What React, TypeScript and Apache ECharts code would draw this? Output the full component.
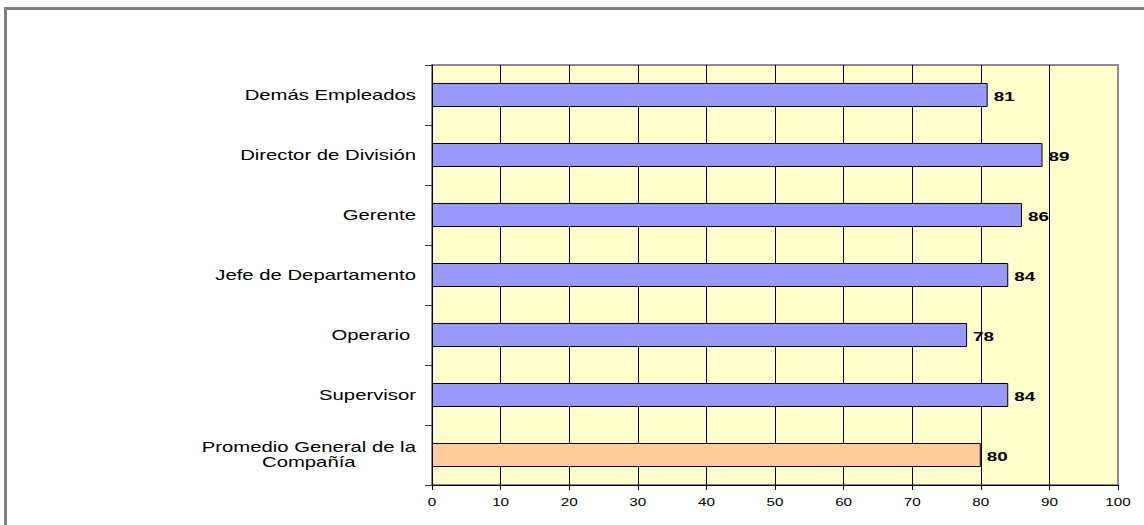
import React, { useEffect, useRef } from "react";
import * as echarts from "echarts";

// Categories listed top to bottom as they appear on the vertical axis
const categories = [
  "Demás Empleados",
  "Director de División",
  "Gerente",
  "Jefe de Departamento",
  "Operario ",
  "Supervisor",
  "Promedio General de la\nCompañía",
];
const scores = [81, 89, 86, 84, 78, 84, 80];
const barColors = ["#9999FF", "#9999FF", "#9999FF", "#9999FF", "#9999FF", "#9999FF", "#FFCC99"];
const xTicks = [0, 10, 20, 30, 40, 50, 60, 70, 80, 90, 100];

const W = 1144;
const H = 525;
const FONT_FAMILY = "'Liberation Sans', Arial, sans-serif";
// Text in this chart is drawn horizontally widened
const STRETCH = 1.45;

function measure(text: string, font: string): number {
  const ctx = document.createElement("canvas").getContext("2d");
  if (!ctx) return text.length * 7;
  ctx.font = font;
  return ctx.measureText(text).width;
}

export default function App() {
  const ref = useRef<HTMLDivElement>(null);

  useEffect(() => {
    if (!ref.current) return;
    const chart = echarts.init(ref.current, null, { renderer: "svg", width: W, height: H });

    const xMin = xTicks[0];
    const xMax = xTicks[xTicks.length - 1];

    chart.setOption({
      animation: false,
      backgroundColor: "#FFFFFF",
      grid: {
        left: 432,
        top: 65,
        right: 26,
        bottom: 40,
        show: true,
        backgroundColor: "#FFFFCC",
        borderColor: "#8C8C8C",
        borderWidth: 2,
      },
      xAxis: {
        type: "value",
        min: xMin,
        max: xMax,
        interval: 10,
        axisLine: { show: true, lineStyle: { color: "#000000", width: 1 } },
        axisTick: { show: true, length: 5, lineStyle: { color: "#000000", width: 1 } },
        axisLabel: { show: false },
        splitLine: {
          show: true,
          lineStyle: {
            color: xTicks.map((t) => (t === xMax ? "#8C8C8C" : "#000000")),
            width: 1,
          },
        },
      },
      yAxis: {
        type: "category",
        data: categories,
        inverse: true,
        axisLine: { show: true, lineStyle: { color: "#000000", width: 1 } },
        axisTick: { show: true, length: 7, lineStyle: { color: "#333333", width: 1 } },
        axisLabel: { show: false },
        splitLine: { show: false },
      },
      series: [
        {
          type: "bar",
          silent: true,
          barWidth: 24,
          data: scores.map((v, i) => ({ value: v, itemStyle: { color: barColors[i] } })),
          itemStyle: { borderColor: "#000000", borderWidth: 1 },
        },
      ],
    });

    const xOf = (v: number) => chart.convertToPixel({ xAxisIndex: 0 }, v) as number;
    const yOf = (i: number) => chart.convertToPixel({ yAxisIndex: 0 }, i) as number;

    const catFont = `14px ${FONT_FAMILY}`;
    const valFont = `bold 13px ${FONT_FAMILY}`;
    const tickFont = `10.5px ${FONT_FAMILY}`;

    const labelRight = xOf(xMin) - 16;
    const elements: any[] = [
      {
        type: "rect",
        silent: true,
        shape: { x: 5.5, y: 8.5, width: 1200, height: 600 },
        style: { fill: "none", stroke: "#808080", lineWidth: 3 },
      },
    ];

    // Category names
    categories.forEach((name, i) => {
      const cy = yOf(i);
      const lines = name.split("\n");
      if (lines.length === 1) {
        elements.push({
          type: "text",
          silent: true,
          x: labelRight,
          y: cy,
          scaleX: STRETCH,
          style: { text: name, font: catFont, fill: "#000000", align: "right", verticalAlign: "middle" },
        });
      } else {
        const w0 = measure(lines[0], catFont) * STRETCH;
        const center = labelRight - w0 / 2;
        const lh = 15;
        lines.forEach((ln, k) => {
          elements.push({
            type: "text",
            silent: true,
            x: center,
            y: cy + (k - (lines.length - 1) / 2) * lh,
            scaleX: STRETCH,
            style: { text: ln, font: catFont, fill: "#000000", align: "center", verticalAlign: "middle" },
          });
        });
      }
    });

    // Value labels at the end of each bar
    scores.forEach((v, i) => {
      elements.push({
        type: "text",
        silent: true,
        x: xOf(v) + 6,
        y: yOf(i) + 1,
        scaleX: STRETCH,
        style: { text: String(v), font: valFont, fill: "#000000", align: "left", verticalAlign: "middle" },
      });
    });

    // Horizontal axis tick labels
    const axisY = yOf(categories.length - 1) + 30;
    xTicks.forEach((t) => {
      elements.push({
        type: "text",
        silent: true,
        x: xOf(t),
        y: axisY + 17,
        scaleX: STRETCH,
        style: { text: String(t), font: tickFont, fill: "#000000", align: "center", verticalAlign: "middle" },
      });
    });

    chart.setOption({ graphic: { elements } });

    return () => {
      chart.dispose();
    };
  }, []);

  return (
    <div
      ref={ref}
      style={{ position: "absolute", left: 0, top: 0, width: W, height: H, background: "#FFFFFF" }}
    />
  );
}
